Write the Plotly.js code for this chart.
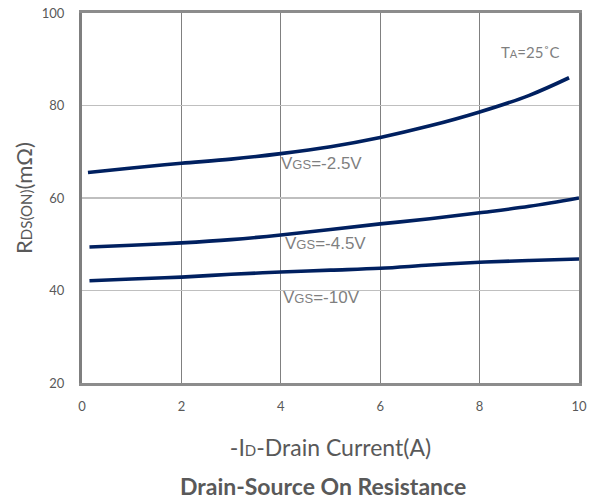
<!DOCTYPE html>
<html>
<head>
<meta charset="utf-8">
<script src="https://cdn.plot.ly/plotly-3.0.1.min.js"></script>
<style>html,body{margin:0;padding:0;background:#fff;}#chart{width:597px;height:502px;}</style>
</head>
<body>
<div id="chart"></div>
<script>
const current25 = [0.12, 1, 2, 3, 4, 5, 6, 7, 8, 9, 9.8];
const rds25 = [65.5, 66.5, 67.5, 68.4, 69.6, 71.1, 73.1, 75.6, 78.6, 82.2, 86.0];
const current45 = [0.15, 1, 2, 3, 4, 5, 6, 7, 8, 9, 10];
const rds45 = [49.4, 49.8, 50.3, 51.0, 52.0, 53.2, 54.4, 55.5, 56.8, 58.2, 60.0];
const current10 = [0.15, 1, 2, 3, 4, 5, 6, 7, 8, 9, 10];
const rds10 = [42.1, 42.5, 42.9, 43.5, 44.0, 44.4, 44.8, 45.5, 46.1, 46.5, 46.8];
const xTicks = [0, 2, 4, 6, 8, 10];
const yTicks = [20, 40, 60, 80, 100];

const lineStyle = {color: '#002060', width: 3.6, shape: 'spline', smoothing: 1};
const traces = [
  {x: current25, y: rds25, mode: 'lines', line: lineStyle, hoverinfo: 'skip'},
  {x: current45, y: rds45, mode: 'lines', line: lineStyle, hoverinfo: 'skip'},
  {x: current10, y: rds10, mode: 'lines', line: lineStyle, hoverinfo: 'skip'}
];
const sub = (s, n) => '<span style="font-size:' + n + 'px">' + s + '</span>';
const labelFont = {family: 'Liberation Sans, Arial, sans-serif', size: 17, color: '#7f7f7f'};
const ann = (x, y, t) => ({x: x, y: y, xref: 'x', yref: 'y', text: t, showarrow: false, xanchor: 'left', yanchor: 'middle', font: labelFont});

const layout = {
  width: 597, height: 502,
  margin: {l: 82, r: 18, t: 13, b: 119},
  paper_bgcolor: '#fff', plot_bgcolor: '#fff',
  showlegend: false,
  font: {family: 'Lato, sans-serif', color: '#595959'},
  xaxis: {
    range: [0, 10], tickvals: xTicks, ticktext: xTicks.map(String),
    showgrid: true, gridcolor: '#808080', gridwidth: 1,
    showline: true, linecolor: '#8c8c8c', linewidth: 3, mirror: true,
    zeroline: false, ticks: '', ticklen: 0, ticklabelstandoff: 9,
    tickfont: {family: 'Lato, sans-serif', size: 13, color: '#595959'},
    title: {text: '-I' + sub('D', 15) + '-Drain Current(A)', standoff: 28,
            font: {family: 'Lato, sans-serif', size: 23, color: '#595959'}}
  },
  yaxis: {
    range: [20, 100], tickvals: yTicks, ticktext: yTicks.map(String),
    showgrid: true, gridcolor: '#bfbfbf', gridwidth: 1.5,
    showline: true, linecolor: '#7f7f7f', linewidth: 3, mirror: true,
    zeroline: false, ticks: '', ticklen: 0, ticklabelstandoff: 12,
    tickfont: {family: 'Lato, sans-serif', size: 13, color: '#595959'},
    title: {text: 'R' + sub('DS(ON)', 15) + '(mΩ)', standoff: 4,
            font: {family: 'Lato, sans-serif', size: 22, color: '#595959'}}
  },
  annotations: [
    ann(3.97, 67.4, 'V' + sub('GS', 13) + '=-2.5V'),
    ann(4.05, 50.2, 'V' + sub('GS', 13) + '=-4.5V'),
    ann(4.0, 38.4, 'V' + sub('GS', 13) + '=-10V'),
    {x: 8.4, y: 91.6, xref: 'x', yref: 'y', text: 'T' + sub('A', 11) + '=25˚C', showarrow: false,
     xanchor: 'left', yanchor: 'middle', font: {family: 'Lato, sans-serif', size: 15, color: '#7f7f7f'}},
    {x: 0.485, y: -0.278, xref: 'paper', yref: 'paper', text: '<b>Drain-Source On Resistance</b>', showarrow: false,
     xanchor: 'center', yanchor: 'middle', font: {family: 'Lato, sans-serif', size: 23, color: '#595959'}}
  ]
};
Plotly.newPlot('chart', traces, layout, {displayModeBar: false, staticPlot: true});
</script>
</body>
</html>
